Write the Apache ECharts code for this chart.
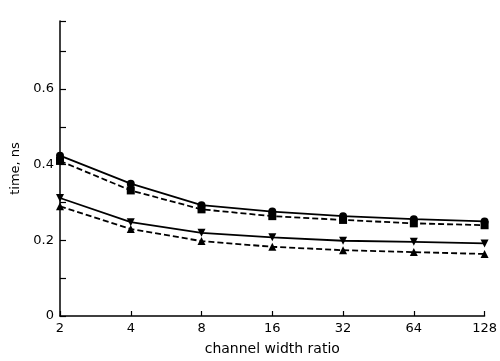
<!DOCTYPE html>
<html>
<head>
<meta charset="utf-8">
<script src="https://cdn.jsdelivr.net/npm/echarts@6/dist/echarts.min.js"></script>
<style>
  html, body { margin: 0; padding: 0; background: #fff; }
  #chart { width: 500px; height: 361px; }
</style>
</head>
<body>
<div id="chart"></div>
<script>
// channel width ratio
const ratios = [2, 4, 8, 16, 32, 64, 128]
// time, ns
const circles = [0.424, 0.35, 0.293, 0.276, 0.264, 0.256, 0.25]
const squares = [0.41, 0.332, 0.282, 0.264, 0.254, 0.245, 0.24]
const downTris = [0.312, 0.248, 0.22, 0.208, 0.199, 0.196, 0.192]
const upTris = [0.29, 0.23, 0.198, 0.183, 0.174, 0.169, 0.164]
const yLabels = ['0', '0.2', '0.4', '0.6']

const font = 'DejaVu Sans'

function line(name, values, symbol, dashed, rotate) {
  return {
    name: name,
    type: 'line',
    data: ratios.map((r, i) => [r, values[i]]),
    symbol: symbol,
    symbolRotate: rotate || 0,
    symbolSize: 8,
    lineStyle: { color: '#000', width: 1.8, type: dashed ? [6, 3] : 'solid' },
    itemStyle: { color: '#000' },
    animation: false
  }
}

const chart = echarts.init(document.getElementById('chart'))
chart.setOption({
  grid: { left: 60, right: 9, top: 21, bottom: 43 },
  xAxis: {
    type: 'log',
    logBase: 2,
    min: 2,
    max: 128,
    name: 'channel width ratio',
    nameLocation: 'middle',
    nameGap: 26,
    nameTextStyle: { color: '#000', fontFamily: font, fontSize: 14 },
    axisLine: { lineStyle: { color: '#000', width: 1.5 } },
    axisTick: { inside: true, length: 5, lineStyle: { color: '#000', width: 1.2 } },
    axisLabel: { color: '#000', fontFamily: font, fontSize: 13, margin: 6 },
    splitLine: { show: false },
    minorTick: { show: false }
  },
  yAxis: {
    type: 'value',
    min: 0,
    max: 0.78,
    interval: 0.1,
    name: 'time, ns',
    nameLocation: 'middle',
    nameGap: 29,
    nameTextStyle: { color: '#000', fontFamily: font, fontSize: 13 },
    axisLine: { show: true, lineStyle: { color: '#000', width: 1.5 } },
    axisTick: { show: true, inside: true, length: 6, lineStyle: { color: '#000', width: 1.2 } },
    axisLabel: {
      color: '#000', fontFamily: font, fontSize: 13, margin: 6,
      formatter: v => {
        const s = String(Math.round(v * 10) / 10)
        return yLabels.includes(s) ? s : ''
      }
    },
    splitLine: { show: false }
  },
  series: [
    line('circles', circles, 'circle', false),
    line('squares', squares, 'rect', true),
    line('down', downTris, 'triangle', false, 180),
    line('up', upTris, 'triangle', true)
  ]
})
</script>
</body>
</html>
